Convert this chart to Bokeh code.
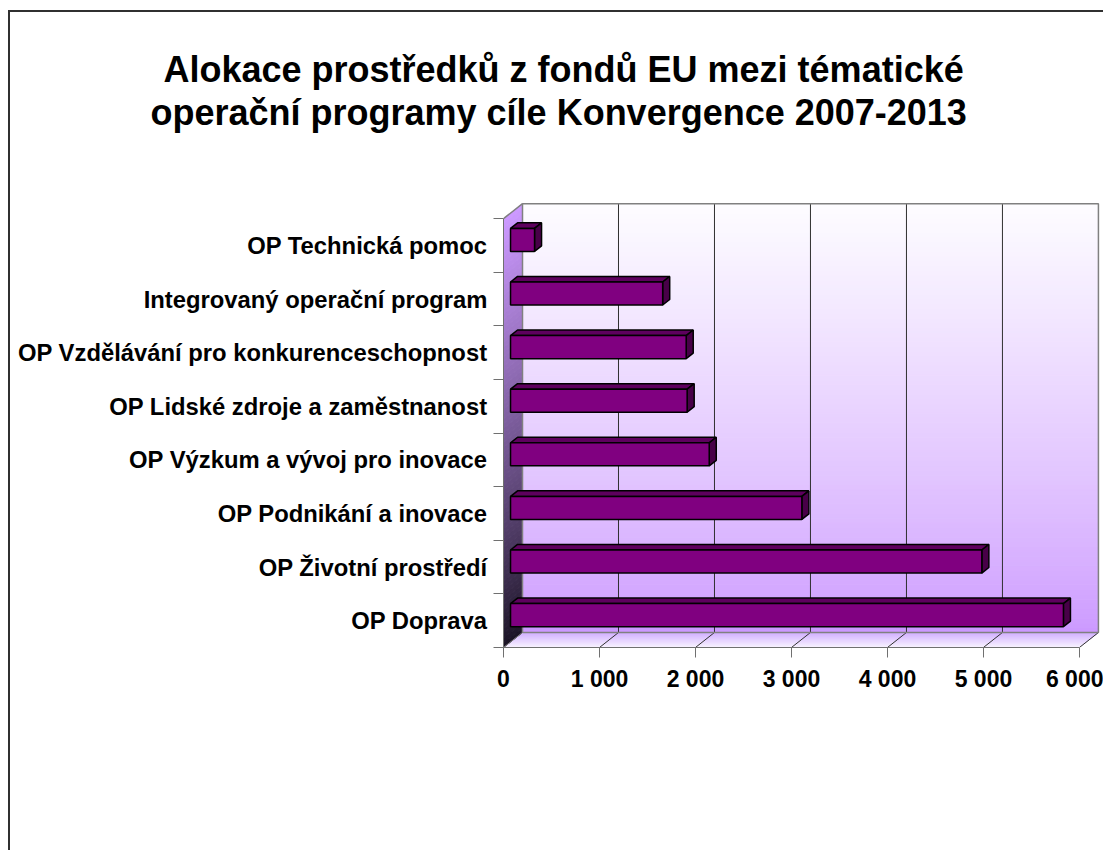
from bokeh.plotting import figure
from bokeh.models import Range1d, FixedTicker, LinearAxis, Title
from bokeh.embed import file_html
from bokeh.resources import INLINE

# ---------------- data ----------------
categories = [
    "OP Doprava",
    "OP Životní prostředí",
    "OP Podnikání a inovace",
    "OP Výzkum a vývoj pro inovace",
    "OP Lidské zdroje a zaměstnanost",
    "OP Vzdělávání pro konkurenceschopnost",
    "Integrovaný operační program",
    "OP Technická pomoc",
]
values = [5760, 4910, 3035, 2070, 1840, 1830, 1585, 250]
x_ticks = [0, 1000, 2000, 3000, 4000, 5000, 6000]
x_tick_labels = ["0", "1 000", "2 000", "3 000", "4 000", "5 000", "6 000"]
title_lines = ["Alokace prostředků z fondů EU mezi tématické",
               "operační programy cíle Konvergence 2007-2013"]

# ---------------- style / geometry ----------------
FONT = "Liberation Sans"
XMAX = 6000
DXV = 198      # depth offset of the 3D box, value units
DY = 0.28      # depth offset, category units
NCAT = len(categories)
BAR_H = 0.43
F0, F1 = 0.37, 0.74

def mix(c1, c2, t):
    a = [int(c1[i:i + 2], 16) for i in (1, 3, 5)]
    b = [int(c2[i:i + 2], 16) for i in (1, 3, 5)]
    return "#%02x%02x%02x" % tuple(round(a[k] + (b[k] - a[k]) * t) for k in range(3))

p = figure(width=1103, height=850,
           x_range=Range1d(0, 6230), y_range=Range1d(0, 8.32),
           x_axis_type=None, y_axis_type=None,
           output_backend="svg", toolbar_location=None,
           min_border_left=503, min_border_right=2,
           min_border_top=201, min_border_bottom=203)
p.outline_line_color = None
p.background_fill_color = "white"
p.border_fill_color = None
p.styles = {
    "background": "linear-gradient(#303030,#303030) 8px 10px / 2px 840px no-repeat, "
                  "linear-gradient(#303030,#303030) 8px 10px / 1095px 2px no-repeat, white"
}

# back wall gradient
N = 90
ys = [DY + NCAT * i / N for i in range(N + 1)]
bc = [mix("#cc99ff", "#fdfcff", (i / (N - 1)) ** 0.8) for i in range(N)]
p.quad(left=[DXV] * N, right=[XMAX + DXV] * N,
       bottom=ys[:-1], top=ys[1:],
       fill_color=bc, line_color=bc, line_width=1)

# floor gradient (depth strips)
M = 20
fx, fy, fc = [], [], []
for i in range(M):
    t0, t1 = i / M, (i + 1) / M
    fx.append([t0 * DXV, XMAX + t0 * DXV, XMAX + t1 * DXV, t1 * DXV])
    fy.append([t0 * DY, t0 * DY, t1 * DY, t1 * DY])
    fc.append(mix("#faf6ff", "#d2b0ff", (i + 0.5) / M))
p.patches(fx, fy, fill_color=fc, line_color=fc, line_width=1)

# side wall gradient
sx, sy, sc = [], [], []
for i in range(N):
    y0 = NCAT * i / N
    y1 = NCAT * (i + 1) / N
    sx.append([0, DXV, DXV, 0])
    sy.append([y0, y0 + DY, y1 + DY, y1])
    sc.append(mix("#1c1526", "#cc99ff", (i / (N - 1)) ** 0.9))
p.patches(sx, sy, fill_color=sc, line_color=sc, line_width=1)

# gridlines on back wall and floor
gx = [v + DXV for v in x_ticks[1:-1]]
p.segment(x0=gx, y0=[DY] * len(gx), x1=gx, y1=[NCAT + DY] * len(gx),
          line_color="#303030", line_width=1)
p.segment(x0=x_ticks[1:], y0=[0] * (len(x_ticks) - 1),
          x1=[v + DXV for v in x_ticks[1:]], y1=[DY] * (len(x_ticks) - 1),
          line_color="#303030", line_width=1)

# wall borders
p.line([DXV, XMAX + DXV, XMAX + DXV, DXV, DXV],
       [DY, DY, NCAT + DY, NCAT + DY, DY], line_color="#808080", line_width=1.5)
p.line([0, DXV], [NCAT, NCAT + DY], line_color="#808080", line_width=1.5)
p.line([0, DXV], [0, DY], line_color="#808080", line_width=1)

# 3D bars
centers = [i + 0.5 for i in range(NCAT)]
fl = [F0 * DXV] * NCAT
fr = [v + F0 * DXV for v in values]
fb = [c - BAR_H / 2 + F0 * DY for c in centers]
ft = [c + BAR_H / 2 + F0 * DY for c in centers]
dd = (F1 - F0) * DXV
ddy = (F1 - F0) * DY
top_x = [[l, r, r + dd, l + dd] for l, r in zip(fl, fr)]
top_y = [[t, t, t + ddy, t + ddy] for t in ft]
side_x = [[r, r + dd, r + dd, r] for r in fr]
side_y = [[b, b + ddy, t + ddy, t] for b, t in zip(fb, ft)]
p.patches(top_x, top_y, fill_color="#5e005e", line_color="black", line_width=1.5)
p.patches(side_x, side_y, fill_color="#480048", line_color="black", line_width=1.5)
p.quad(left=fl, right=fr, bottom=fb, top=ft, fill_color="#800080",
       line_color="black", line_width=1.5)

# axes
xaxis = LinearAxis(ticker=FixedTicker(ticks=x_ticks),
                   major_label_overrides={v: s for v, s in zip(x_ticks, x_tick_labels)})
xaxis.bounds = (0, XMAX)
xaxis.axis_line_color = "#707070"
xaxis.major_tick_line_color = "#707070"
xaxis.major_tick_out = 10
xaxis.major_tick_in = 0
xaxis.minor_tick_out = 0
xaxis.minor_tick_in = 0
xaxis.major_label_standoff = 8
xaxis.major_label_text_font = FONT
xaxis.major_label_text_font_style = "bold"
xaxis.major_label_text_font_size = "23px"
xaxis.major_label_text_color = "black"
p.add_layout(xaxis, "below")

yaxis = LinearAxis(ticker=FixedTicker(ticks=centers, minor_ticks=list(range(NCAT + 1))),
                   major_label_overrides={c: s for c, s in zip(centers, categories)})
yaxis.bounds = (0, NCAT)
yaxis.axis_line_color = "#707070"
yaxis.minor_tick_line_color = "#707070"
yaxis.major_tick_out = 0
yaxis.major_tick_in = 0
yaxis.minor_tick_out = 10
yaxis.minor_tick_in = 0
yaxis.major_label_standoff = 6
yaxis.major_label_text_font = FONT
yaxis.major_label_text_font_style = "bold"
yaxis.major_label_text_font_size = "23.8px"
yaxis.major_label_text_color = "black"
p.add_layout(yaxis, "left")

# title: spacer nearest the frame, then line 2, then line 1
tstyle = dict(text_font=FONT, text_font_style="bold", text_font_size="36px",
              text_color="black", align="left")
p.add_layout(Title(text=" ", standoff=26, **tstyle), "above")
p.add_layout(Title(text=title_lines[1], offset=-353, standoff=0, **tstyle), "above")
p.add_layout(Title(text=title_lines[0], offset=-340, standoff=0, **tstyle), "above")

open("out.html", "w").write(file_html(p, INLINE))
